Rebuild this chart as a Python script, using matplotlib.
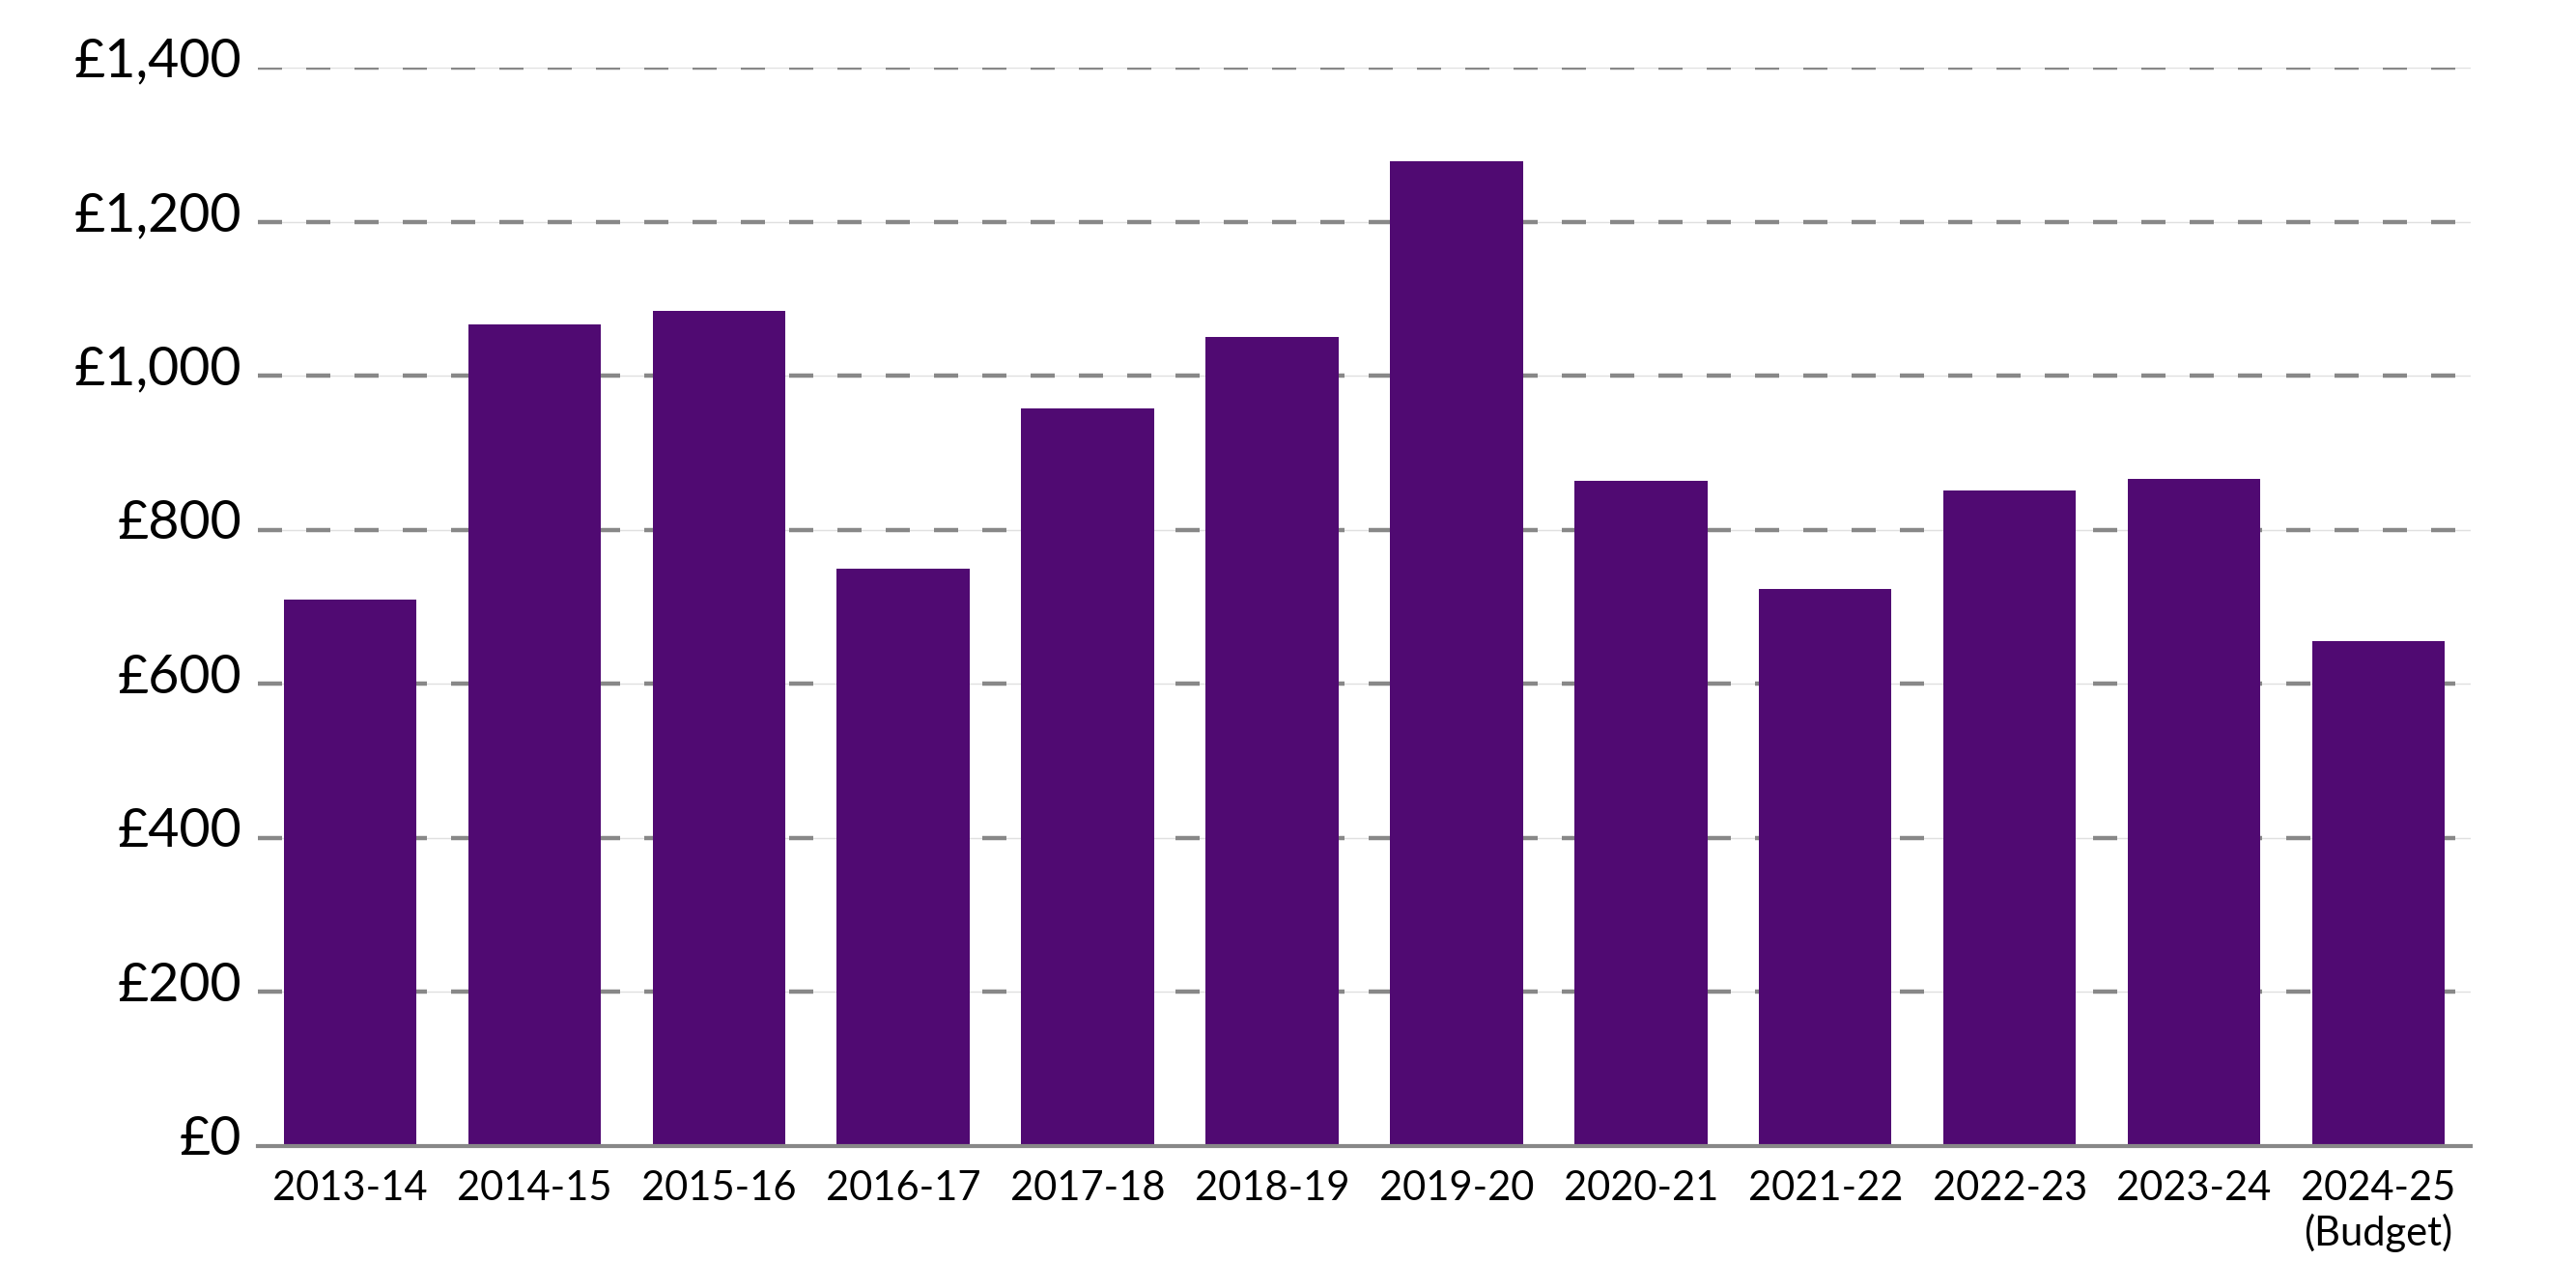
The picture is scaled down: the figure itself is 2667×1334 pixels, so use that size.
import matplotlib
matplotlib.use('Agg')
import matplotlib.pyplot as plt
import matplotlib.transforms as mtransforms

# data
years = ['2013-14', '2014-15', '2015-16', '2016-17', '2017-18', '2018-19',
         '2019-20', '2020-21', '2021-22', '2022-23', '2023-24', '2024-25\n(Budget)']
values = [710, 1067, 1084, 749, 958, 1050, 1278, 864, 723, 851, 866, 655]
yticks = [0, 200, 400, 600, 800, 1000, 1200, 1400]
ytick_labels = ['£0', '£200', '£400', '£600', '£800', '£1,000', '£1,200', '£1,400']

plt.rcParams['font.family'] = ['Lato', 'DejaVu Sans']
plt.rcParams['lines.scale_dashes'] = False

bar_color = '#500a72'
grid_color = '#888888'

fig = plt.figure(figsize=(13.335, 6.67), dpi=200)
ax = fig.add_axes([0.1001, 0.1102, 0.859, 0.8373])

x = list(range(len(years)))
ax.bar(x, values, width=0.72, color=bar_color, zorder=3)

# gridlines: thin light line under grey dashes
for t in yticks[1:]:
    ax.axhline(t, color='#e0e0e0', linewidth=0.5, zorder=1)
    ax.axhline(t, color=grid_color, linewidth=1.6, dashes=(9, 9), zorder=2)

ax.set_xlim(-0.5, len(years) - 0.5)
ax.set_ylim(0, 1400)
ax.set_yticks(yticks)
ax.set_yticklabels(ytick_labels, fontsize=20)
ax.set_xticks(x)
ax.set_xticklabels(years, fontsize=15)
ax.tick_params(axis='both', length=0)
ax.tick_params(axis='y', pad=6)
ax.tick_params(axis='x', pad=9)

for s in ['top', 'right', 'left']:
    ax.spines[s].set_visible(False)
ax.spines['bottom'].set_color(grid_color)
ax.spines['bottom'].set_linewidth(1.5)
ax.spines['bottom'].set_zorder(4)

# lift y labels a bit so they sit just above their line
offset = mtransforms.ScaledTranslation(0, 4 / 72, fig.dpi_scale_trans)
for lab in ax.get_yticklabels():
    lab.set_transform(lab.get_transform() + offset)

plt.savefig('out.png', dpi=200)
